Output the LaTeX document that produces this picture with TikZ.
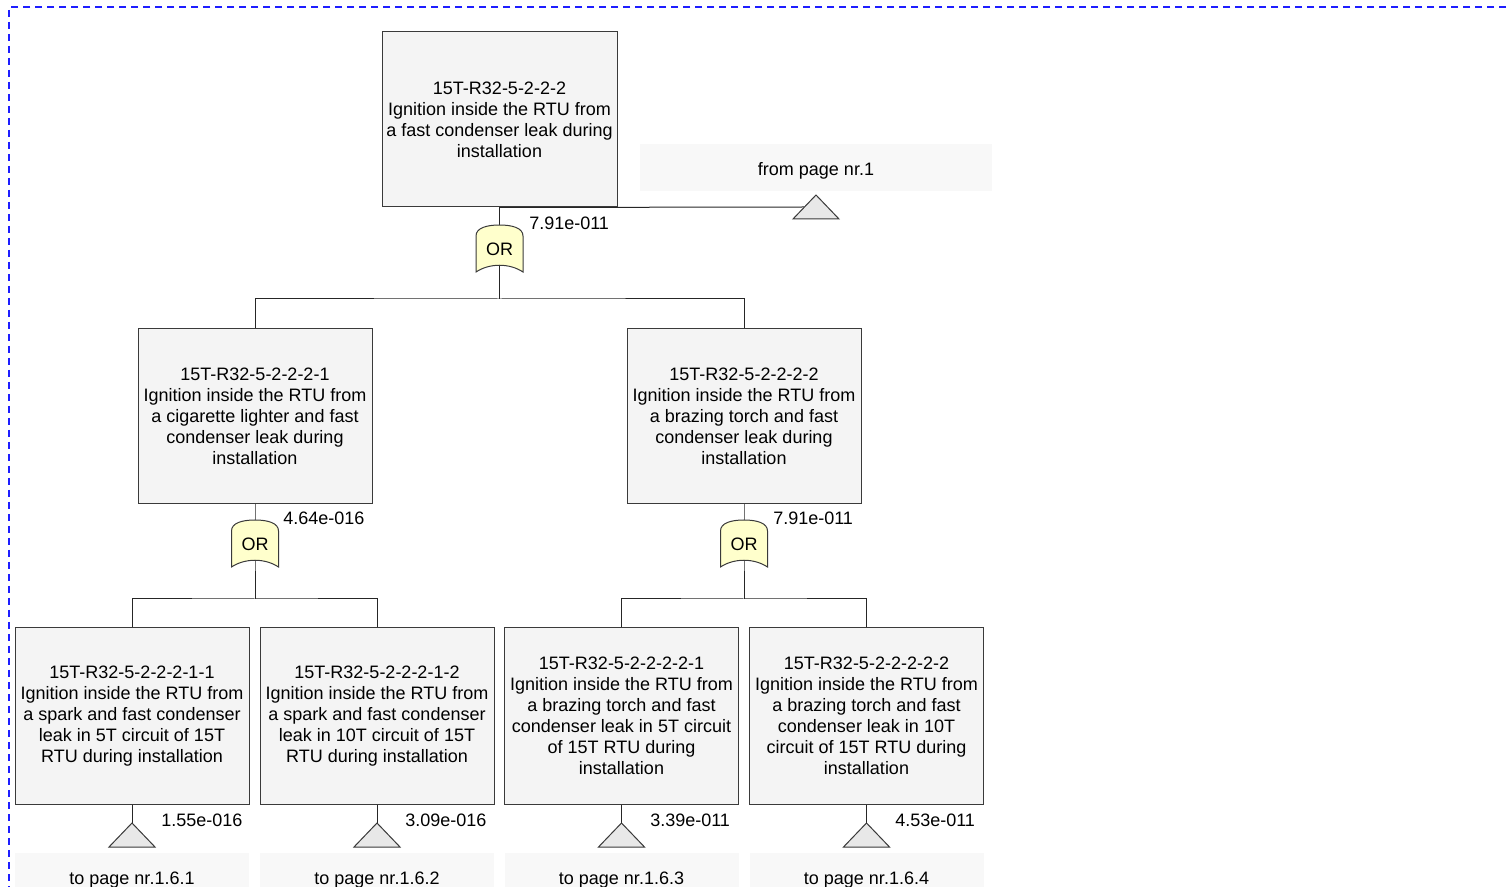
\documentclass[tikz,border=0pt]{standalone}
\usepackage{fontspec}
\setmainfont{Liberation Sans}
\usetikzlibrary{backgrounds,calc}
\definecolor{boxfill}{HTML}{F4F4F4}
\definecolor{boxline}{HTML}{3A3A3A}
\definecolor{gatefill}{HTML}{FFFFCC}
\definecolor{trifill}{HTML}{E8E8E8}
\definecolor{pagefill}{HTML}{F8F8F8}
\definecolor{frameblue}{HTML}{1E1EFF}
\begin{document}
\begin{tikzpicture}[x=0.75pt,y=-0.75pt,
  font=\fontsize{13.5}{15.75}\selectfont,
  event/.style={draw=boxline, fill=boxfill, line width=0.75pt, align=center,
    inner sep=0pt, minimum width=175.5pt, minimum height=131.25pt},
  gatenode/.style={inner sep=0pt, minimum width=35pt, minimum height=34pt},
  gateshape/.style={draw=boxline, fill=gatefill, line width=0.75pt},
  conn/.style={draw=black!85, line width=0.75pt},
  tri/.style={draw=boxline, fill=trifill, line width=0.75pt},
  prob/.style={anchor=west, inner sep=0pt},
  pagelabel/.style={fill=pagefill, inner sep=0pt, minimum width=175.5pt,
    minimum height=35.25pt, text height=11.4pt, text depth=0pt},
]
\clip (0,0) rectangle (1507,887);
\useasboundingbox (0,0) rectangle (1507,887);
\draw[frameblue, dash pattern=on 5.25pt off 3.75pt, line width=0.8pt] (1530,7) -- (9,7) -- (9,910);

% top event
\node[event, minimum width=176.25pt] (top) at (499.5,119.5) {15T-R32-5-2-2-2\\Ignition inside the RTU from\\a fast condenser leak during\\installation};
\node[gatenode] (g1) at (499.5,249) {OR};
\node[prob] at (529,223) {7.91e-011};
\node[pagelabel, minimum width=264pt] (p0) at (816,167.5) {from page nr.1};
\coordinate (t0) at (816,195);
\coordinate (t0l) at (804.5,207);
\coordinate (bar1) at (499.5,299);

% level 2
\node[event] (l) at (255,416.5) {15T-R32-5-2-2-2-1\\Ignition inside the RTU from\\a cigarette lighter and fast\\condenser leak during\\installation};
\node[event] (r) at (744,416.5) {15T-R32-5-2-2-2-2\\Ignition inside the RTU from\\a brazing torch and fast\\condenser leak during\\installation};
\node[gatenode] (gl) at (255,544) {OR};
\node[gatenode] (gr) at (744,544) {OR};
\node[prob] at (283,518) {4.64e-016};
\node[prob] at (773,518) {7.91e-011};
\coordinate (bar2) at (255,599);
\coordinate (bar3) at (744,599);

% level 3
\node[event, minimum height=132pt] (b1) at (132,716) {15T-R32-5-2-2-2-1-1\\Ignition inside the RTU from\\a spark and fast condenser\\leak in 5T circuit of 15T\\RTU during installation};
\node[event, minimum height=132pt] (b2) at (377,716) {15T-R32-5-2-2-2-1-2\\Ignition inside the RTU from\\a spark and fast condenser\\leak in 10T circuit of 15T\\RTU during installation};
\node[event, minimum height=132pt] (b3) at (621.5,716) {15T-R32-5-2-2-2-2-1\\Ignition inside the RTU from\\a brazing torch and fast\\condenser leak in 5T circuit\\of 15T RTU during\\installation};
\node[event, minimum height=132pt] (b4) at (866.5,716) {15T-R32-5-2-2-2-2-2\\Ignition inside the RTU from\\a brazing torch and fast\\condenser leak in 10T\\circuit of 15T RTU during\\installation};

\coordinate (t1) at (132,823);
\coordinate (t2) at (377,823);
\coordinate (t3) at (621.5,823);
\coordinate (t4) at (866.5,823);
\node[prob] at (161,820) {1.55e-016};
\node[prob] at (405,820) {3.09e-016};
\node[prob] at (650,820) {3.39e-011};
\node[prob] at (895,820) {4.53e-011};

\node[pagelabel] (p1) at (132,876.5) {to page nr.1.6.1};
\node[pagelabel] (p2) at (377,876.5) {to page nr.1.6.2};
\node[pagelabel] (p3) at (621.5,876.5) {to page nr.1.6.3};
\node[pagelabel] (p4) at (866.5,876.5) {to page nr.1.6.4};

% triangles
\foreach \t in {t0,t1,t2,t3,t4}
  \draw[tri] (\t) -- ++(23,24) -- ++(-46,0) -- cycle;

\begin{pgfonlayer}{background}
  \draw[conn] (top.south) -- (t0l);
  \draw[conn] (top.south) -- (g1.center) -- (bar1);
  \draw[conn] (l.north) |- (bar1) -| (r.north);
  \draw[conn] (l.south) -- (gl.center) -- (bar2);
  \draw[conn] (b1.north) |- (bar2) -| (b2.north);
  \draw[conn] (r.south) -- (gr.center) -- (bar3);
  \draw[conn] (b3.north) |- (bar3) -| (b4.north);
  \draw[conn] (b1.south) -- (t1);
  \draw[conn] (b2.south) -- (t2);
  \draw[conn] (b3.south) -- (t3);
  \draw[conn] (b4.south) -- (t4);
  \foreach \g in {g1,gl,gr}
    \draw[gateshape, shift={(\g.center)}] (-23.5,23) -- (-23.5,-13)
      .. controls (-23.5,-21) and (-13,-24) .. (0,-24)
      .. controls (13,-24) and (23.5,-21) .. (23.5,-13)
      -- (23.5,23) .. controls (10,14) and (-10,14) .. (-23.5,23) -- cycle;
\end{pgfonlayer}
\end{tikzpicture}
\end{document}
